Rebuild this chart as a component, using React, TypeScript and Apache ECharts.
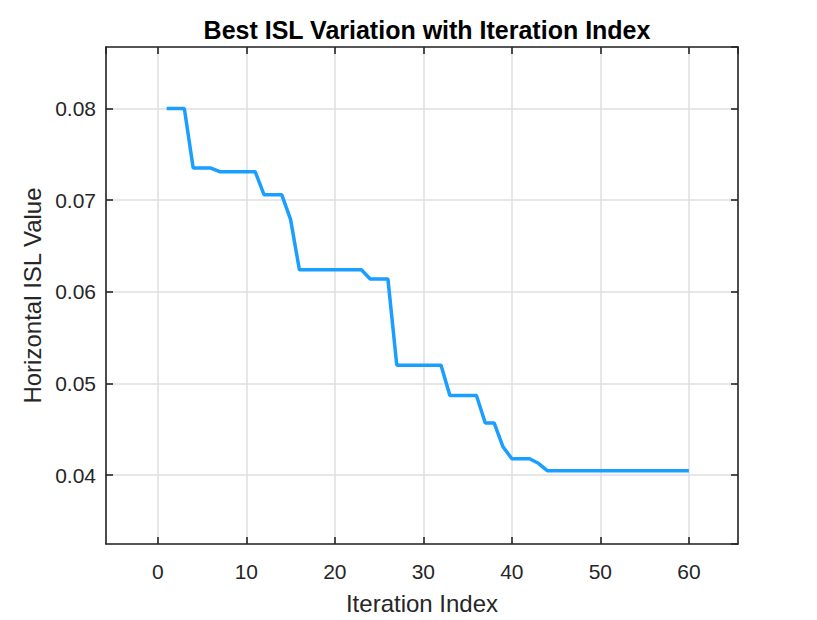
import React, { useEffect, useRef } from "react";
import * as echarts from "echarts";

const iterations = [
  1, 2, 3, 4, 5, 6, 7, 8, 9, 10,
  11, 12, 13, 14, 15, 16, 17, 18, 19, 20,
  21, 22, 23, 24, 25, 26, 27, 28, 29, 30,
  31, 32, 33, 34, 35, 36, 37, 38, 39, 40,
  41, 42, 43, 44, 45, 46, 47, 48, 49, 50,
  51, 52, 53, 54, 55, 56, 57, 58, 59, 60,
];

const bestISL = [
  0.0800, 0.0800, 0.0800, 0.0735, 0.0735, 0.0735, 0.0731, 0.0731, 0.0731, 0.0731,
  0.0731, 0.0706, 0.0706, 0.0706, 0.0679, 0.0624, 0.0624, 0.0624, 0.0624, 0.0624,
  0.0624, 0.0624, 0.0624, 0.0614, 0.0614, 0.0614, 0.0520, 0.0520, 0.0520, 0.0520,
  0.0520, 0.0520, 0.0487, 0.0487, 0.0487, 0.0487, 0.0457, 0.0457, 0.0431, 0.0418,
  0.0418, 0.0418, 0.0413, 0.0405, 0.0405, 0.0405, 0.0405, 0.0405, 0.0405, 0.0405,
  0.0405, 0.0405, 0.0405, 0.0405, 0.0405, 0.0405, 0.0405, 0.0405, 0.0405, 0.0405,
];

const xTicks = [0, 10, 20, 30, 40, 50, 60];
const yTicks = [0.04, 0.05, 0.06, 0.07, 0.08];

const titleText = "Best ISL Variation with Iteration Index";
const xName = "Iteration Index";
const yName = "Horizontal ISL Value";

const X_MIN = -5.85;
const X_MAX = 65.55;
const Y_MIN = 0.0325;
const Y_MAX = 0.0867;

const FONT = "'Liberation Sans', Arial, Helvetica, sans-serif";
const AXIS_COLOR = "#262626";
const GRID_COLOR = "#dfdfdf";

export default function App() {
  const ref = useRef<HTMLDivElement>(null);

  useEffect(() => {
    if (!ref.current) return;
    const chart = echarts.init(ref.current, null, { renderer: "svg" });

    const xLabelFmt = (v: number) => {
      const hit = xTicks.find((t) => Math.abs(t - v) < 1e-6);
      return hit === undefined ? "" : String(hit);
    };
    const yLabelFmt = (v: number) => {
      const hit = yTicks.find((t) => Math.abs(t - v) < 1e-6);
      return hit === undefined ? "" : hit.toFixed(2);
    };

    const common = {
      type: "value" as const,
      axisLine: { show: true, onZero: false, lineStyle: { color: AXIS_COLOR, width: 1.6 } },
      axisTick: { show: true, inside: true, length: 7, lineStyle: { color: AXIS_COLOR, width: 1.6 } },
    };

    chart.setOption({
      animation: false,
      backgroundColor: "#ffffff",
      title: {
        text: titleText,
        left: 422,
        top: 12,
        textAlign: "center",
        textStyle: { fontFamily: FONT, fontSize: 25, fontWeight: "bold", color: "#000000" },
      },
      grid: { left: 106, right: 79, top: 47, bottom: 71, containLabel: false },
      xAxis: [
        {
          ...common,
          position: "bottom",
          min: X_MIN,
          max: X_MAX,
          splitNumber: 7,
          name: xName,
          nameLocation: "middle",
          nameGap: 47,
          nameTextStyle: { fontFamily: FONT, fontSize: 24, color: AXIS_COLOR },
          axisLabel: {
            formatter: xLabelFmt,
            margin: 17,
            fontFamily: FONT,
            fontSize: 21,
            color: AXIS_COLOR,
            showMinLabel: false,
            showMaxLabel: false,
          },
          splitLine: { show: true, lineStyle: { color: GRID_COLOR, width: 1.5 } },
        },
        {
          ...common,
          position: "top",
          min: X_MIN,
          max: X_MAX,
          splitNumber: 7,
          axisLabel: { show: false },
          splitLine: { show: false },
        },
      ],
      yAxis: [
        {
          ...common,
          position: "left",
          min: Y_MIN,
          max: Y_MAX,
          splitNumber: 5,
          name: yName,
          nameLocation: "middle",
          nameGap: 60,
          nameTextStyle: { fontFamily: FONT, fontSize: 24, color: AXIS_COLOR },
          axisLabel: {
            formatter: yLabelFmt,
            margin: 10,
            fontFamily: FONT,
            fontSize: 21,
            color: AXIS_COLOR,
            showMinLabel: false,
            showMaxLabel: false,
          },
          splitLine: { show: true, lineStyle: { color: GRID_COLOR, width: 1.5 } },
        },
        {
          ...common,
          position: "right",
          min: Y_MIN,
          max: Y_MAX,
          splitNumber: 5,
          axisLabel: { show: false },
          splitLine: { show: false },
        },
      ],
      series: [
        {
          type: "line",
          xAxisIndex: 0,
          yAxisIndex: 0,
          data: iterations.map((it, i) => [it, bestISL[i]]),
          showSymbol: false,
          symbol: "none",
          lineStyle: { color: "#1a9eff", width: 3.5 },
          z: 5,
        },
      ],
    });

    return () => chart.dispose();
  }, []);

  return (
    <div
      ref={ref}
      style={{ position: "fixed", left: 0, top: 0, width: 817, height: 620 }}
    />
  );
}
